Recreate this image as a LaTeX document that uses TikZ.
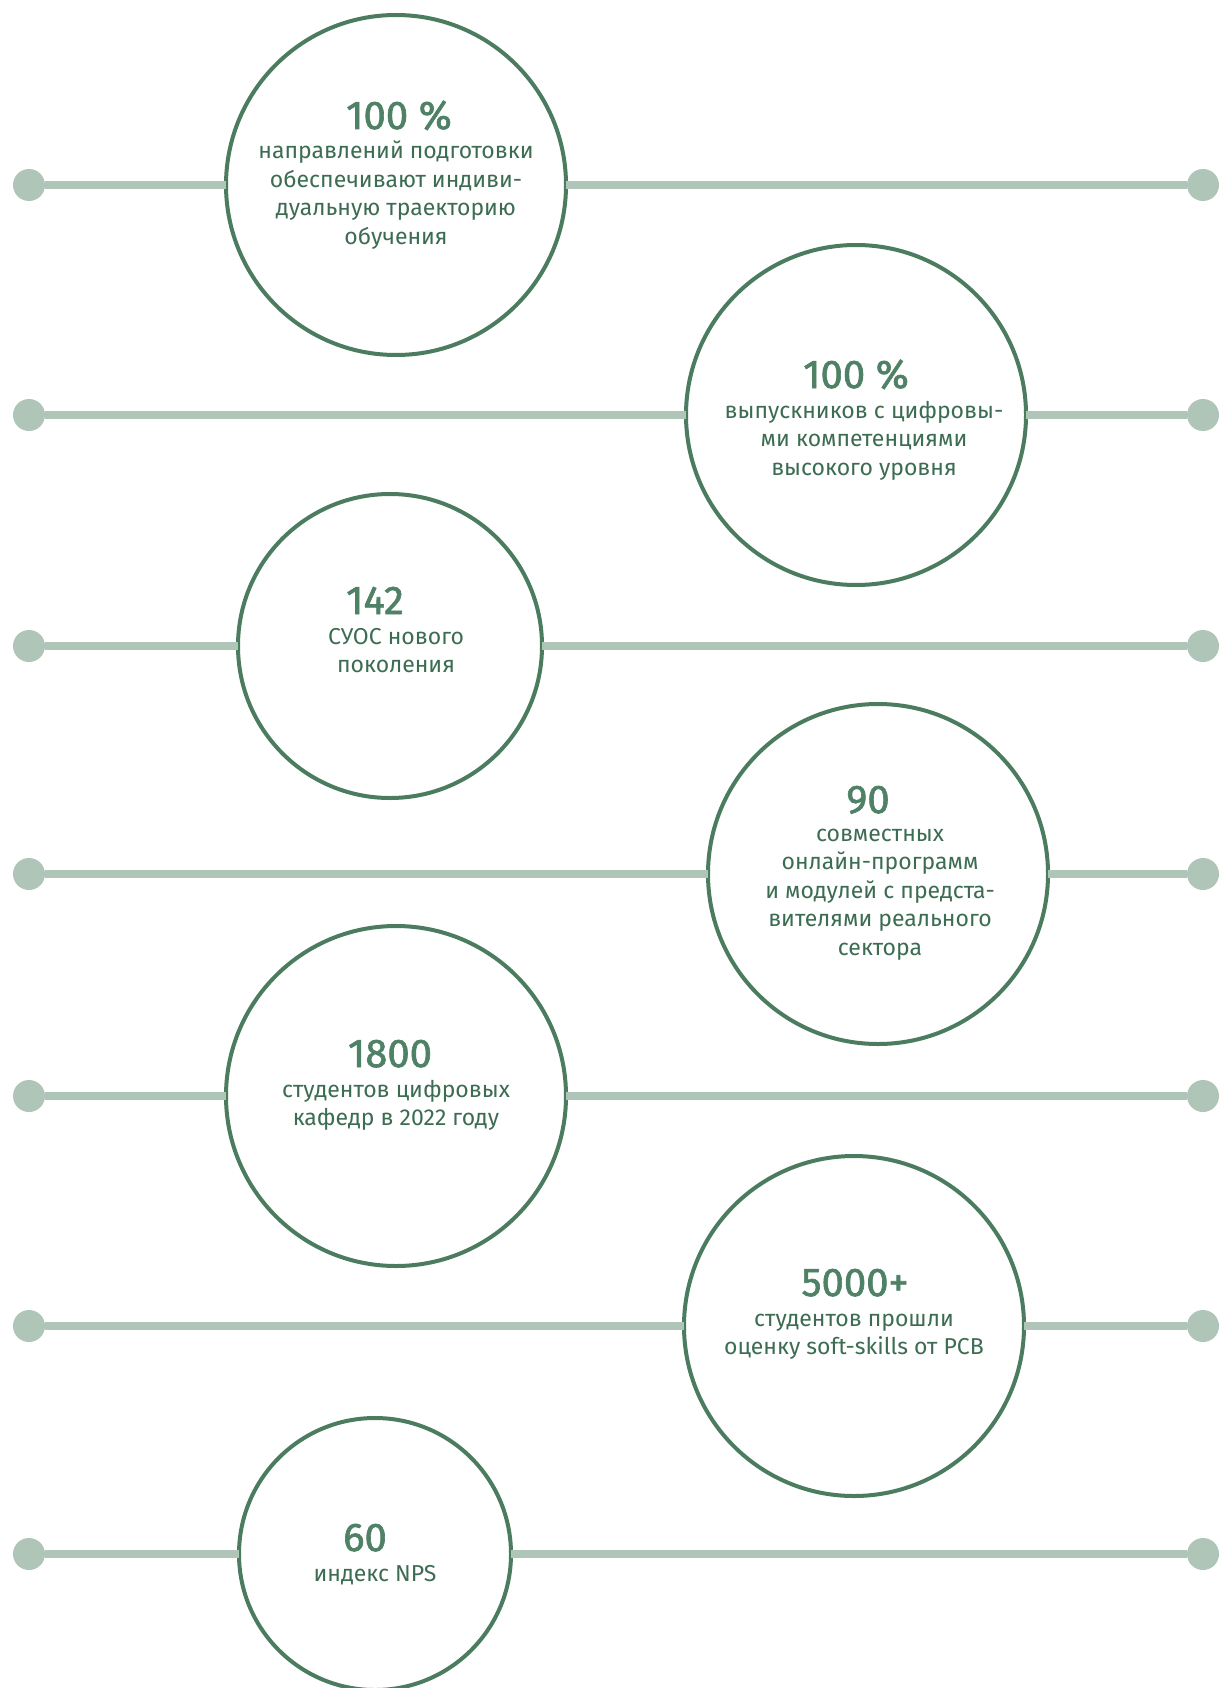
\documentclass[tikz,border=0pt]{standalone}
\usepackage{fontspec}
\setmainfont{Fira Sans}
\newfontfamily\numfont[FakeBold=1.6]{Fira Sans}
\usepackage{tikz}
\usetikzlibrary{positioning}

\definecolor{railc}{HTML}{AFC5B8}
\definecolor{ringc}{HTML}{4B7C60}
\definecolor{numc}{HTML}{4F8166}
\definecolor{txtc}{HTML}{3C6C52}

\begin{document}
\begin{tikzpicture}[x=1pt,y=-1pt,semithick]
\tikzstyle{dot} = [circle,fill=railc,minimum size=32pt,inner sep=0pt,outer sep=0pt]
\tikzstyle{ring} = [circle,draw=ringc,line width=4pt,fill=white,minimum size=340pt,inner sep=0pt,outer sep=0pt]
\tikzstyle{smallring} = [ring,minimum size=304pt]
\tikzstyle{tinyring} = [ring,minimum size=272pt]
\tikzstyle{numtext} = [anchor=base,inner sep=0pt,text=numc,font=\fontsize{40}{44}\selectfont\numfont]
\tikzstyle{bodytext} = [anchor=base,inner sep=0pt,text=txtc,align=center,font=\fontsize{23}{28.5}\selectfont]
    \useasboundingbox (0,0) rectangle (1219,1688);
    % left and right ends of the rails
    \node[dot] (l1) at (29,185) {};  \node[dot] (r1) at (1203,185) {};
    \node[dot] (l2) at (29,415) {};  \node[dot] (r2) at (1203,415) {};
    \node[dot] (l3) at (29,646) {};  \node[dot] (r3) at (1203,646) {};
    \node[dot] (l4) at (29,874) {};  \node[dot] (r4) at (1203,874) {};
    \node[dot] (l5) at (29,1096) {}; \node[dot] (r5) at (1203,1096) {};
    \node[dot] (l6) at (29,1326) {}; \node[dot] (r6) at (1203,1326) {};
    \node[dot] (l7) at (29,1554) {}; \node[dot] (r7) at (1203,1554) {};

    \node[ring] (c1) at (396,185) {};
    \node[ring] (c2) at (856,415) {};
    \node[smallring] (c3) at (390,646) {};
    \node[ring] (c4) at (878,874) {};
    \node[ring] (c5) at (396,1096) {};
    \node[ring] (c6) at (854,1326) {};
    \node[tinyring] (c7) at (375,1554) {};

    \tikzset{rail/.style={draw=railc,line width=8pt}}
    \foreach \i in {1,...,7} {
        \draw (l\i) edge [rail] (c\i);
        \draw (c\i) edge [rail] (r\i);
    }

    % base of a text block is its last line
    \node[numtext] (n1) at (399,129) {100 \%};
    \node[bodytext] (t1) at (396,244.5) {направлений подготовки\\обеспечивают индиви-\\дуальную траекторию\\обучения};
    \node[numtext] (n2) at (856,388) {100 \%};
    \node[bodytext] (t2) at (864,475) {выпускников с цифровы-\\ми компетенциями\\высокого уровня};
    \node[numtext] (n3) at (375,614) {142};
    \node[bodytext] (t3) at (396,672.5) {СУОС нового\\поколения};
    \node[numtext] (n4) at (868,813) {90};
    \node[bodytext] (t4) at (880,955) {совместных\\онлайн-программ\\и модулей с предста-\\вителями реального\\сектора};
    \node[numtext] (n5) at (390,1067) {1800};
    \node[bodytext] (t5) at (396,1125.5) {студентов цифровых\\кафедр в 2022 году};
    \node[numtext] (n6) at (855,1296) {5000+};
    \node[bodytext] (t6) at (854,1354.5) {студентов прошли\\оценку soft-skills от РСВ};
    \node[numtext] (n7) at (365,1551) {60};
    \node[bodytext] (t7) at (375,1581) {индекс NPS};
\end{tikzpicture}
\end{document}
